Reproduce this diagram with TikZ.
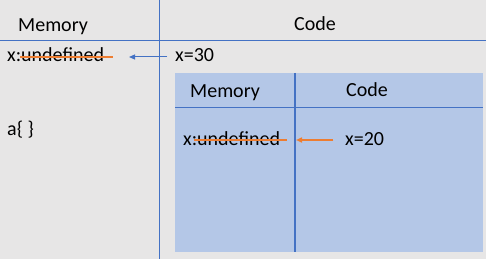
\documentclass[tikz,border=0pt]{standalone}
\usepackage{fontspec}
\setmainfont{Carlito}
\usetikzlibrary{arrows.meta}
\definecolor{bggray}{HTML}{E7E6E6}
\definecolor{lineblue}{HTML}{4472C4}
\definecolor{panelblue}{HTML}{B4C7E7}
\definecolor{strikeorange}{HTML}{ED7D31}
\begin{document}
\begin{tikzpicture}[x=1pt,y=-1pt,
  txt/.style={anchor=base west,inner sep=0pt,font=\fontsize{20}{24}\selectfont},
  rule/.style={draw=lineblue,line width=1pt},
  strike/.style={draw=strikeorange,line width=1.6pt},
  ptr/.style={line width=1pt,-{Triangle[length=6pt,width=5pt]}}]
  % background
  \fill[bggray] (0,0) rectangle (486,259);
  \useasboundingbox (0,0) rectangle (486,259);
  % outer frame lines
  \draw[rule] (159.5,0) -- (159.5,259);
  \draw[rule] (0,40.5) -- (486,40.5);
  % outer headers and contents
  \node[txt] (mem) at (18,32) {Memory};
  \node[txt] (code) at (294,31) {Code};
  \node[txt] (xu) at (7,62) {x:undefined};
  \node[txt] (x30) at (175,62) {x=30};
  \node[txt] (a) at (7,135) {a\{ \}};
  \coordinate (s1a) at (20,57);
  \coordinate (s1b) at (113,57);
  \draw[strike] (s1a) -- (s1b);
  \coordinate (p1a) at (167,57);
  \coordinate (p1b) at (129,57);
  \draw[ptr,draw=lineblue,fill=lineblue] (p1a) -- (p1b);
  % inner scope panel
  \fill[panelblue] (175,73) rectangle (483,252);
  \draw[draw=lineblue,line width=2pt] (295,73) -- (295,252);
  \draw[rule] (175,107) -- (483,107);
  \node[txt] (imem) at (190,97) {Memory};
  \node[txt] (icode) at (346,96) {Code};
  \node[txt] (ixu) at (183,145) {x:undefined};
  \node[txt] (x20) at (345,145) {x=20};
  \coordinate (s2a) at (194,140);
  \coordinate (s2b) at (287,140);
  \draw[strike] (s2a) -- (s2b);
  \coordinate (p2a) at (333,140);
  \coordinate (p2b) at (296,140);
  \draw[ptr,draw=strikeorange,fill=strikeorange,line width=1.6pt] (p2a) -- (p2b);
\end{tikzpicture}
\end{document}
